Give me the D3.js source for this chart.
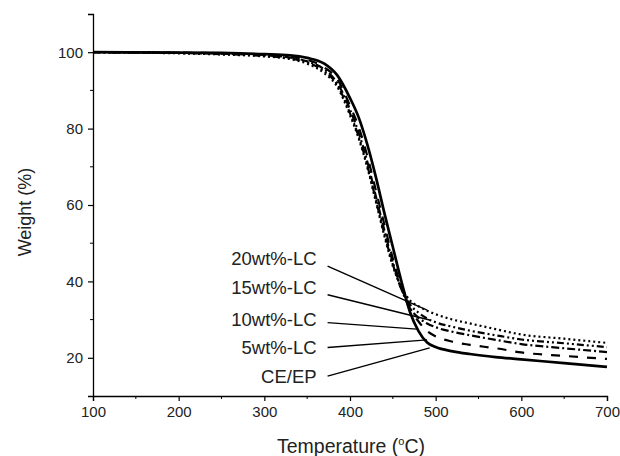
<!DOCTYPE html>
<meta charset="utf-8">
<head>
  <title>TGA curves</title>
</head>
<style>
body {
  margin: 0;
  background: #fff;
  font-family: "Liberation Sans", Arial, Helvetica, sans-serif;
}
text { fill: #222; }
</style>
<body>
<script src="https://cdn.jsdelivr.net/npm/d3@7"></script>
<script>

// Temperature grid (°C) shared by all curves
var temps = [100, 200, 250, 300, 330, 350, 370, 385, 400, 410, 420, 430, 440, 450, 460, 470, 480, 490, 500, 520, 540, 570, 600, 650, 700];

// Weight (%)
var ceep  = [100, 99.9, 99.8, 99.5, 99.2, 98.5, 97, 94, 88, 83, 76, 67.5, 58, 49, 40, 32, 27, 24, 22.8, 21.7, 21, 20.2, 19.6, 18.6, 17.6];
var lc5   = [100, 99.9, 99.7, 99.3, 98.8, 98, 96, 93, 86, 80.5, 73, 64, 55, 46, 38.5, 33, 29.5, 27, 25.6, 24.2, 23.4, 22.5, 21.4, 20.5, 19.7];
var lc10  = [100, 99.8, 99.6, 99.2, 98.6, 97.6, 95.5, 92, 85, 79, 71.5, 62.5, 53.5, 45, 38, 33, 30.5, 29, 28, 26.8, 25.9, 24.7, 23.6, 22.5, 21.5];
var lc15  = [100, 99.8, 99.5, 99, 98.4, 97.3, 95, 91.5, 84, 78, 70.5, 61.5, 52.5, 44.5, 38, 34, 31.8, 30.3, 29.3, 28.1, 27.1, 25.9, 24.8, 23.8, 22.8];
var lc20  = [100, 99.7, 99.4, 98.9, 98.2, 97, 94.5, 91, 83.5, 77.5, 70, 61, 52, 44, 38.5, 35, 33.5, 32.3, 31.4, 30, 29, 27.5, 26.1, 25, 23.9];

// labels and where their leader lines point to (°C, %)
var labelNames = ["20wt%-LC", "15wt%-LC", "10wt%-LC", "5wt%-LC", "CE/EP"];
var labelW     = [46.1, 38.3, 30.0, 22.7, 15.2];
var labelT     = 361;
var leadFromW  = [44, 36.5, 29.2, 22.7, 15.2];
var leadToT    = [490, 493, 478, 490, 493];
var leadToW    = [32.5, 29.9, 27.5, 24.7, 22.6];

var xTicks = [100, 200, 300, 400, 500, 600, 700];
var yTicks = [20, 40, 60, 80, 100];

var w = 620, h = 456;
var margin = {top: 14, right: 13, bottom: 60, left: 93};

var svg = d3.select("body").append("svg")
  .attr("width", w)
  .attr("height", h);

var x = d3.scaleLinear().domain([100, 700]).range([margin.left, w - margin.right]);
var y = d3.scaleLinear().domain([10, 110]).range([h - margin.bottom, margin.top]);

var series = [
  {vals: lc20, dash: "2,3", width: 2.2},
  {vals: lc15, dash: "7,3,2,3,2,3", width: 2.2},
  {vals: lc10, dash: "8,3,2,3", width: 2.2},
  {vals: lc5,  dash: "9,9", width: 2.2},
  {vals: ceep, dash: null, width: 2.7}
];

var line = d3.line()
  .x(function(d) { return x(d[0]); })
  .y(function(d) { return y(d[1]); })
  .curve(d3.curveMonotoneX);

series.forEach(function(s) {
  svg.append("path")
    .datum(temps.map(function(t, i) { return [t, s.vals[i]]; }))
    .attr("d", line)
    .attr("fill", "none")
    .attr("stroke", "#000")
    .attr("stroke-width", s.width)
    .attr("stroke-dasharray", s.dash)
    .attr("stroke-linejoin", "round");
});

// axes
var xAxis = svg.append("g")
  .attr("transform", "translate(0," + y(10) + ")")
  .call(d3.axisBottom(x).tickValues(xTicks).tickSize(5).tickPadding(5));
xAxis.append("g").selectAll("line")
  .data(d3.range(150, 700, 100))
  .enter().append("line")
  .attr("x1", function(d) { return x(d); })
  .attr("x2", function(d) { return x(d); })
  .attr("y1", 0).attr("y2", 3)
  .attr("stroke", "#000");

var yAxis = svg.append("g")
  .attr("transform", "translate(" + x(100) + ",0)")
  .call(d3.axisLeft(y).tickValues(yTicks).tickSize(5).tickPadding(5));
yAxis.append("g").selectAll("line")
  .data([30, 50, 70, 90])
  .enter().append("line")
  .attr("y1", function(d) { return y(d); })
  .attr("y2", function(d) { return y(d); })
  .attr("x1", 0).attr("x2", -3)
  .attr("stroke", "#000");

[xAxis, yAxis].forEach(function(a) {
  a.select(".domain").attr("stroke", "#000").attr("stroke-width", 1.3);
  a.selectAll(".tick line").attr("stroke", "#000").attr("stroke-width", 1.2);
  a.selectAll("text")
    .attr("font-family", "Liberation Sans, Arial, sans-serif")
    .attr("font-size", 15)
    .attr("fill", "#222");
});

// axis titles
svg.append("text")
  .attr("transform", "translate(31," + ((margin.top + h - margin.bottom) / 2 + 7) + ") rotate(-90)")
  .attr("text-anchor", "middle")
  .attr("font-size", 18)
  .text("Weight (%)");

var xt = svg.append("text")
  .attr("x", 351)
  .attr("y", 453)
  .attr("text-anchor", "middle")
  .attr("font-size", 19.5);
xt.append("tspan").text("Temperature (");
xt.append("tspan").attr("font-size", 11).attr("dy", -8).text("o");
xt.append("tspan").attr("dy", 8).text("C)");

// labels with leader lines
labelNames.forEach(function(name, i) {
  svg.append("text")
    .attr("x", x(labelT))
    .attr("y", y(labelW[i]))
    .attr("dy", "0.35em")
    .attr("text-anchor", "end")
    .attr("font-size", 18.5)
    .text(name);
  svg.append("line")
    .attr("x1", x(labelT) + 11)
    .attr("y1", y(leadFromW[i]))
    .attr("x2", x(leadToT[i]))
    .attr("y2", y(leadToW[i]))
    .attr("stroke", "#000")
    .attr("stroke-width", 1.4);
});

</script>
</body>
</html>
